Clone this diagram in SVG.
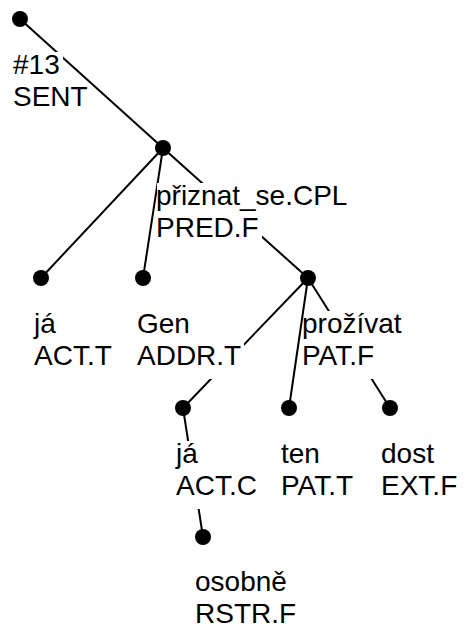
<svg xmlns="http://www.w3.org/2000/svg" width="466" height="627" viewBox="0 0 466 627">
<style>
.e{stroke:#000;stroke-width:2;fill:none}
.n{fill:#000}
.bg{fill:#fff}
text{font-family:"Liberation Sans",Arial,sans-serif;font-size:28px;fill:#000}
</style>
<rect width="466" height="627" fill="#fff"/>
<g id="connectors">
<line class="e" x1="20" y1="19" x2="163" y2="148"/>
<line class="e" x1="163" y1="148" x2="41" y2="278"/>
<line class="e" x1="163" y1="148" x2="143" y2="278"/>
<line class="e" x1="163" y1="148" x2="308" y2="278"/>
<line class="e" x1="308" y1="278" x2="183" y2="408"/>
<line class="e" x1="308" y1="278" x2="289" y2="408"/>
<line class="e" x1="308" y1="278" x2="390" y2="408"/>
<line class="e" x1="183" y1="408" x2="203" y2="537"/>
</g>
<g id="n-root">
<circle class="n" cx="20" cy="19" r="8"/>
<rect class="bg" x="14" y="52" width="49" height="36"/>
<rect class="bg" x="14" y="84" width="77" height="36"/>
<text x="13" y="74">#13</text>
<text x="13" y="106">SENT</text>
</g>
<g id="n-priznat">
<circle class="n" cx="163" cy="148" r="8"/>
<rect class="bg" x="157" y="183" width="193" height="36"/>
<rect class="bg" x="157" y="215" width="105" height="36"/>
<text x="156" y="205">přiznat_se.CPL</text>
<text x="156" y="237">PRED.F</text>
</g>
<g id="n-ja1">
<circle class="n" cx="41" cy="278" r="8"/>
<rect class="bg" x="35" y="311" width="83" height="36"/>
<rect class="bg" x="35" y="343" width="83" height="36"/>
<text x="34" y="333">já</text>
<text x="34" y="365">ACT.T</text>
</g>
<g id="n-gen">
<circle class="n" cx="143" cy="278" r="8"/>
<rect class="bg" x="138" y="311" width="106" height="36"/>
<rect class="bg" x="138" y="343" width="106" height="36"/>
<text x="137" y="333">Gen</text>
<text x="137" y="365">ADDR.T</text>
</g>
<g id="n-prozivat">
<circle class="n" cx="308" cy="278" r="8"/>
<rect class="bg" x="304" y="311" width="101" height="36"/>
<rect class="bg" x="304" y="343" width="81" height="36"/>
<text x="302" y="333">prožívat</text>
<text x="302" y="365">PAT.F</text>
</g>
<g id="n-ja2">
<circle class="n" cx="183" cy="408" r="8"/>
<rect class="bg" x="177" y="441" width="86" height="36"/>
<rect class="bg" x="177" y="473" width="86" height="36"/>
<text x="176" y="463">já</text>
<text x="176" y="495">ACT.C</text>
</g>
<g id="n-ten">
<circle class="n" cx="289" cy="408" r="8"/>
<rect class="bg" x="282" y="441" width="81" height="36"/>
<rect class="bg" x="282" y="473" width="81" height="36"/>
<text x="281" y="463">ten</text>
<text x="281" y="495">PAT.T</text>
</g>
<g id="n-dost">
<circle class="n" cx="390" cy="408" r="8"/>
<rect class="bg" x="382" y="441" width="81" height="36"/>
<rect class="bg" x="382" y="473" width="81" height="36"/>
<text x="381" y="463">dost</text>
<text x="381" y="495">EXT.F</text>
</g>
<g id="n-osobne">
<circle class="n" cx="203" cy="537" r="8"/>
<rect class="bg" x="196" y="569" width="103" height="36"/>
<rect class="bg" x="196" y="601" width="103" height="26"/>
<text x="195" y="591">osobně</text>
<text x="195" y="623">RSTR.F</text>
</g>
</svg>
